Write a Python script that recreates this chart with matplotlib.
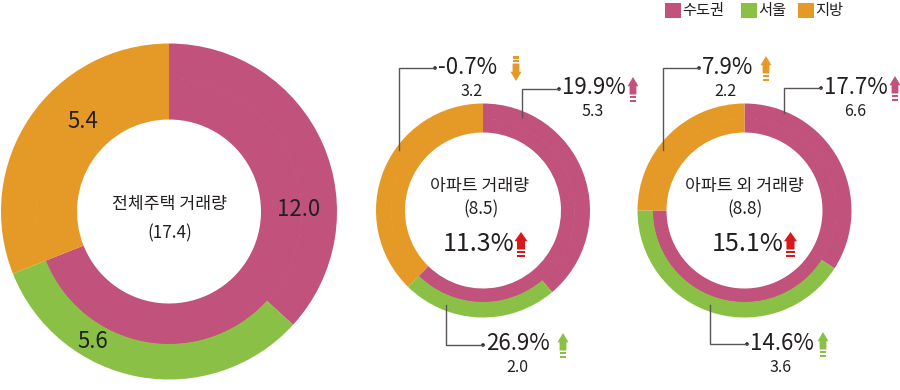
import matplotlib.pyplot as plt
from matplotlib.patches import Polygon, Rectangle, Circle

plt.rcParams['font.family'] = ['Noto Sans CJK KR', 'DejaVu Sans']

MAGENTA = '#C0527C'
GREEN = '#8BC046'
ORANGE = '#E59A28'
RED = '#D7191C'
INK = '#231F20'
LINE = '#5A5455'

# data (unit as in the source chart)
legend_names = ['수도권', '서울', '지방']
titles = ['전체주택 거래량', '아파트 거래량', '아파트 외 거래량']
totals = [17.4, 8.5, 8.8]
capital = [12.0, 5.3, 6.6]
seoul = [5.6, 2.0, 3.6]
local = [5.4, 3.2, 2.2]
total_chg = [None, 11.3, 15.1]
capital_chg = [None, 19.9, 17.7]
seoul_chg = [None, 26.9, 14.6]
local_chg = [None, -0.7, 7.9]

# layout in pixels: centre, outer radius, seoul band radius, hole radius
rings = [
    dict(c=(169, 211.5), R=168, rm=133, r=92),
    dict(c=(483, 210.5), R=107, rm=92, r=78),
    dict(c=(744.5, 210.5), R=107, rm=92, r=78),
]


def arrow(ax, x, top, color, up=True, h=24, w=11):
    # block arrow with two stripes at the tail
    hw, sw, hd = w / 2, w * 0.31, 0.37 * h
    body = [(0, 0), (-hw, hd), (-sw, hd), (-sw, 0.70 * h), (sw, 0.70 * h), (sw, hd), (hw, hd)]
    bands = [(0.75 * h, 0.85 * h), (0.90 * h, 1.0 * h)]
    fy = (lambda v: top + v) if up else (lambda v: top + h - v)
    ax.add_patch(Polygon([(x + px, fy(py)) for px, py in body], closed=True, fc=color, ec='none'))
    for a, b in bands:
        y0, y1 = sorted([fy(a), fy(b)])
        ax.add_patch(Rectangle((x - sw, y0), 2 * sw, y1 - y0, fc=color, ec='none'))


def leader(ax, pts):
    xs, ys = zip(*pts)
    ax.plot(xs, ys, color=LINE, lw=1.0, solid_joinstyle='miter')
    ax.add_patch(Circle(pts[-1], 1.8, fc=INK, ec='none'))


fig = plt.figure(figsize=(9, 3.9), dpi=100)
ax = fig.add_axes([0, 0, 1, 1])

# y axis is inverted (pixel coords), so a data-ccw pie runs clockwise on screen
for i, g in enumerate(rings):
    ax.pie([capital[i], local[i]], radius=g['rm'], center=g['c'], startangle=-90,
           counterclock=True, colors=[MAGENTA, ORANGE],
           wedgeprops=dict(width=g['rm'] - g['r'], edgecolor='none', linewidth=0))
    ax.pie([capital[i] - seoul[i], seoul[i], local[i]], radius=g['R'], center=g['c'],
           startangle=-90, counterclock=True, colors=[MAGENTA, GREEN, ORANGE],
           wedgeprops=dict(width=g['R'] - g['rm'] + 0.5, edgecolor='none', linewidth=0))

# left donut
ax.text(169, 204, titles[0], ha='center', va='center', fontsize=12.4, color=INK)
ax.text(170, 233, f'({totals[0]})', ha='center', va='center', fontsize=12.4, color=INK)
ax.text(299, 210, f'{capital[0]:.1f}', ha='center', va='center', fontsize=16, color=INK)
ax.text(83, 122, f'{local[0]:.1f}', ha='center', va='center', fontsize=16, color=INK)
ax.text(93, 341, f'{seoul[0]:.1f}', ha='center', va='center', fontsize=16, color=INK)

# middle / right donuts
ann = [
    None,
    dict(cx=480, big_x=443, red_x=521, lo=(399, 150, 68, 435), lo_txt=472, lo_arr=516,
         ca=(522, 117, 89, 559), ca_txt=593, ca_arr=633,
         se=(446, 305, 345, 483), se_txt=517, se_arr=563),
    dict(cx=744, big_x=712, red_x=790.5, lo=(662.5, 150, 68, 699), lo_txt=725, lo_arr=766,
         ca=(784, 113, 88, 821), ca_txt=855, ca_arr=895,
         se=(710, 305, 344, 747), se_txt=781, se_arr=823),
]

for i in (1, 2):
    a = ann[i]
    ax.text(a['cx'], 186, titles[i], ha='center', va='center', fontsize=12.4, color=INK)
    ax.text(a['cx'] + 1, 209, f'({totals[i]})', ha='center', va='center', fontsize=12.4, color=INK)
    ax.text(a['big_x'], 244, f'{total_chg[i]:.1f}%', ha='left', va='center', fontsize=18,
            color=INK, fontweight='light')
    arrow(ax, a['red_x'], 232, RED, up=total_chg[i] > 0, h=25, w=13)

    items = [
        (a['lo'], local_chg[i], local[i], a['lo_txt'], a['lo_arr'], ORANGE),
        (a['ca'], capital_chg[i], capital[i], a['ca_txt'], a['ca_arr'], MAGENTA),
        (a['se'], seoul_chg[i], seoul[i], a['se_txt'], a['se_arr'], GREEN),
    ]
    for (x0, y0, y1, x1), chg, val, tx, arx, col in items:
        leader(ax, [(x0, y0), (x0, y1), (x1, y1)])
        ax.text(x1 + 3, y1 - 1, f'{chg:.1f}%', ha='left', va='center', fontsize=16,
                color=INK, fontweight='light')
        ax.text(tx, y1 + 23, f'{val:.1f}', ha='center', va='center', fontsize=11.5, color=INK)
        arrow(ax, arx, y1 - 12, col, up=chg > 0, h=25, w=11)

# legend
for name, col, x in zip(legend_names, [MAGENTA, GREEN, ORANGE], [665, 741, 798]):
    ax.add_patch(Rectangle((x, 2.5), 15.5, 15, fc=col, ec='none'))
    ax.text(x + 17.5, 10, name, ha='left', va='center', fontsize=11, color=INK)

ax.set_xlim(0, 900)
ax.set_ylim(390, 0)
ax.set_aspect('equal')
ax.axis('off')

fig.savefig('out.png', dpi=100, facecolor='white')
